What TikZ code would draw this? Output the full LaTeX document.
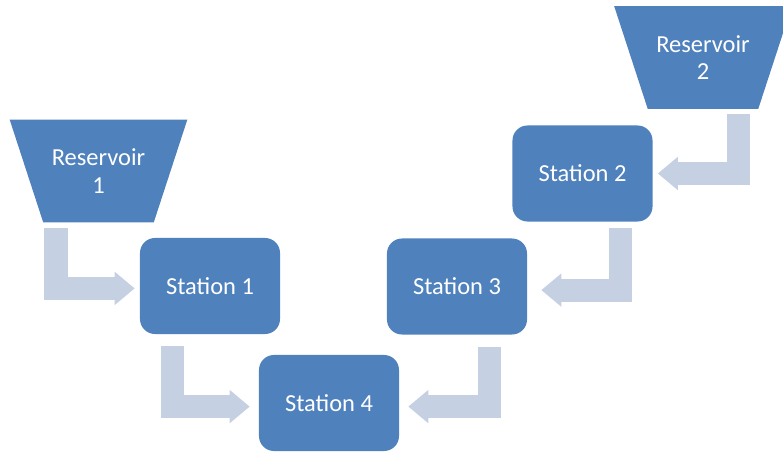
\documentclass[tikz,border=0pt]{standalone}
\usepackage{fontspec}
\setmainfont{Carlito}
\usepackage{tikz}
\usetikzlibrary{positioning,arrows.meta,calc,backgrounds}
\definecolor{boxblue}{RGB}{79,129,189}
\definecolor{pipegrey}{RGB}{197,208,227}

\begin{document}
\begin{tikzpicture}[x=0.025cm, y=-0.025cm,
    every node/.style={font=\fontsize{17.4}{19.5}\selectfont, text=white},
    station/.style={rectangle, rounded corners=0.375cm, fill=boxblue,
      minimum width=3.5cm, minimum height=2.4cm, inner sep=0pt},
    reservoir/.style={rectangle, minimum width=4.425cm,
      minimum height=2.55cm, inner sep=0pt, align=center},
    flow/.style={draw=pipegrey, line width=0.575cm, line join=miter,
      -{Triangle[length=0.5cm, width=0.8cm]}}]
  \useasboundingbox (0,0) rectangle (783,452);
  % reservoirs
  \node[reservoir] (res1) at (98.5,171) {Reservoir\\1};
  \node[reservoir] (res2) at (703,57.5) {Reservoir\\2};
  \begin{scope}[on background layer]
    \foreach \r in {res1,res2}{
      \fill[boxblue] (\r.north west) -- (\r.north east)
        -- ($(\r.south east)+(-33.5,0)$) -- ($(\r.south west)+(33.5,0)$)
        -- cycle;}
  \end{scope}
  % stations
  \foreach \n/\x/\y in {1/210/286, 2/582.5/173.5, 3/457/286.5, 4/329/403}{
    \node[station] (st\n) at (\x,\y) {Station \n};}
  % pipes
  \draw[flow, shorten <=6*0.025cm, shorten >=5*0.025cm]
    ($(res1.south)+(-42.5,0)$) |- ([yshift=-0.06cm]st1.west);
  \draw[flow, shorten <=5*0.025cm, shorten >=5*0.025cm]
    ($(res2.south)+(35.5,0)$) |- (st2.east);
  \draw[flow, shorten <=6*0.025cm, shorten >=14*0.025cm]
    ($(st2.south)+(38,0)$) |- ([yshift=-0.09cm]st3.east);
  \draw[flow, shorten <=12*0.025cm, shorten >=9*0.025cm]
    ($(st1.south)+(-37.5,0)$) |- ([yshift=-0.09cm]st4.west);
  \draw[flow, shorten <=12*0.025cm, shorten >=9*0.025cm]
    ($(st3.south)+(32,0)$) |- ([yshift=-0.09cm]st4.east);
\end{tikzpicture}
\end{document}
